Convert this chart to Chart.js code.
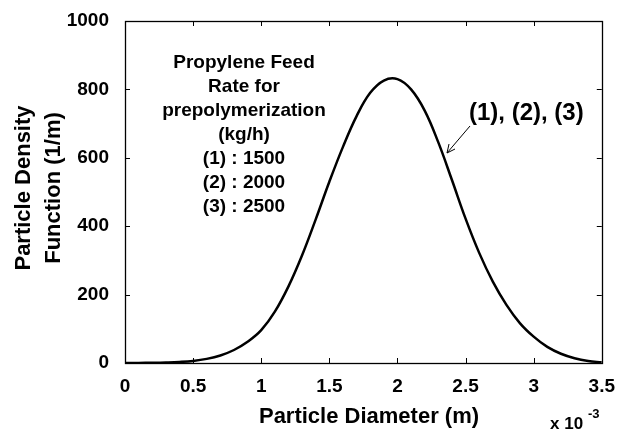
<!DOCTYPE html>
<html>
<head>
<meta charset="utf-8">
<script src="https://cdn.jsdelivr.net/npm/chart.js@4"></script>
<style>
  html, body { margin: 0; padding: 0; background: #fff; }
  #wrap { width: 619px; height: 430px; }
</style>
</head>
<body>
<div id="wrap"><canvas id="chart" width="619" height="430"></canvas></div>
<script>
// particle diameter (x 10^-3 m)
const diameters = [0, 0.1, 0.2, 0.3, 0.4, 0.5, 0.6, 0.7, 0.8, 0.9,
  1.0, 1.1, 1.2, 1.3, 1.4, 1.5, 1.6, 1.7, 1.8, 1.9,
  2.0, 2.1, 2.2, 2.3, 2.4, 2.5, 2.6, 2.7, 2.8, 2.9,
  3.0, 3.1, 3.2, 3.3, 3.4, 3.5];
// density function (1/m), curves (1),(2),(3) overlap
const density = [0, 0.3, 0.7, 1.5, 3, 6, 12, 22, 38, 62,
  96, 150, 224, 315, 420, 530, 632, 722, 790, 826,
  830, 800, 738, 645, 535, 422, 322, 238, 170, 116,
  77, 47, 27, 14, 6, 2];
const xTicks = [0, 0.5, 1, 1.5, 2, 2.5, 3, 3.5];
const yTicks = [0, 200, 400, 600, 800, 1000];
const noteLines = ["Propylene Feed", "Rate for", "prepolymerization", "(kg/h)",
  "(1) : 1500", "(2) : 2000", "(3) : 2500"];
const curveLabel = "(1), (2), (3)";

const FONT = "'Liberation Sans', Arial, sans-serif";

const points = diameters.map((d, i) => ({ x: d, y: density[i] }));

// inward ticks, box, titles and notes, matlab style
const decor = {
  id: "decor",
  afterDraw(chart) {
    const ctx = chart.ctx;
    const a = chart.chartArea;
    const xs = chart.scales.x, ys = chart.scales.y;
    ctx.save();
    ctx.strokeStyle = "#000";
    ctx.lineWidth = 1;
    ctx.beginPath();
    xTicks.forEach(v => {
      const px = Math.round(xs.getPixelForValue(v)) + 0.5;
      ctx.moveTo(px, a.bottom); ctx.lineTo(px, a.bottom - 5);
      ctx.moveTo(px, a.top); ctx.lineTo(px, a.top + 5);
    });
    yTicks.forEach(v => {
      const py = Math.round(ys.getPixelForValue(v)) + 0.5;
      ctx.moveTo(a.left, py); ctx.lineTo(a.left + 5, py);
      ctx.moveTo(a.right, py); ctx.lineTo(a.right - 5, py);
    });
    ctx.stroke();
    ctx.lineWidth = 1.3;
    ctx.strokeRect(Math.round(a.left) + 0.5, Math.round(a.top) + 0.5,
      Math.round(a.right - a.left), Math.round(a.bottom - a.top));

    ctx.fillStyle = "#000";
    // x title
    ctx.font = "bold 22px " + FONT;
    ctx.textAlign = "center";
    ctx.textBaseline = "alphabetic";
    ctx.fillText("Particle Diameter (m)", 369, 423);
    // multiplier
    ctx.font = "bold 17px " + FONT;
    ctx.textAlign = "left";
    ctx.fillText("x 10", 550, 429);
    ctx.font = "bold 13px " + FONT;
    ctx.fillText("-3", 588, 418);
    // y title
    ctx.save();
    ctx.translate(0, 188);
    ctx.rotate(-Math.PI / 2);
    ctx.font = "bold 22px " + FONT;
    ctx.textAlign = "center";
    ctx.fillText("Particle Density", 0, 30);
    ctx.fillText("Function (1/m)", 0, 60);
    ctx.restore();
    // notes
    ctx.font = "bold 19px " + FONT;
    ctx.textAlign = "center";
    noteLines.forEach((t, i) => ctx.fillText(t, 244, 68 + i * 24));
    // curve label + arrow
    ctx.font = "bold 24px " + FONT;
    ctx.textAlign = "left";
    ctx.fillText(curveLabel, 469, 120);
    ctx.lineWidth = 1;
    ctx.beginPath();
    ctx.moveTo(470, 126); ctx.lineTo(447, 153);
    ctx.moveTo(447, 153); ctx.lineTo(449, 144);
    ctx.moveTo(447, 153); ctx.lineTo(455, 149);
    ctx.stroke();
    ctx.restore();
  }
};

new Chart(document.getElementById("chart"), {
  type: "line",
  data: {
    datasets: [{
      data: points,
      borderColor: "#000",
      borderWidth: 2.5,
      pointRadius: 0,
      tension: 0.4,
      fill: false
    }]
  },
  options: {
    responsive: false,
    animation: false,
    layout: { padding: { left: 0, top: 21, right: 16, bottom: 0 } },
    plugins: { legend: { display: false }, tooltip: { enabled: false } },
    scales: {
      x: {
        type: "linear",
        min: 0, max: 3.5,
        afterBuildTicks: s => { s.ticks = xTicks.map(v => ({ value: v })); },
        afterFit: s => { s.height = 67; },
        grid: { display: false },
        border: { display: false },
        ticks: {
          padding: 4,
          color: "#000",
          font: { family: FONT, size: 19, weight: "bold" },
          maxRotation: 0,
          callback: v => String(v)
        }
      },
      y: {
        min: 0, max: 1000,
        afterBuildTicks: s => { s.ticks = yTicks.map(v => ({ value: v })); },
        afterFit: s => { s.width = 125; },
        grid: { display: false },
        border: { display: false },
        ticks: {
          padding: 8,
          color: "#000",
          font: { family: FONT, size: 19, weight: "bold" },
          callback: v => String(v)
        }
      }
    }
  },
  plugins: [decor]
});
</script>
</body>
</html>
